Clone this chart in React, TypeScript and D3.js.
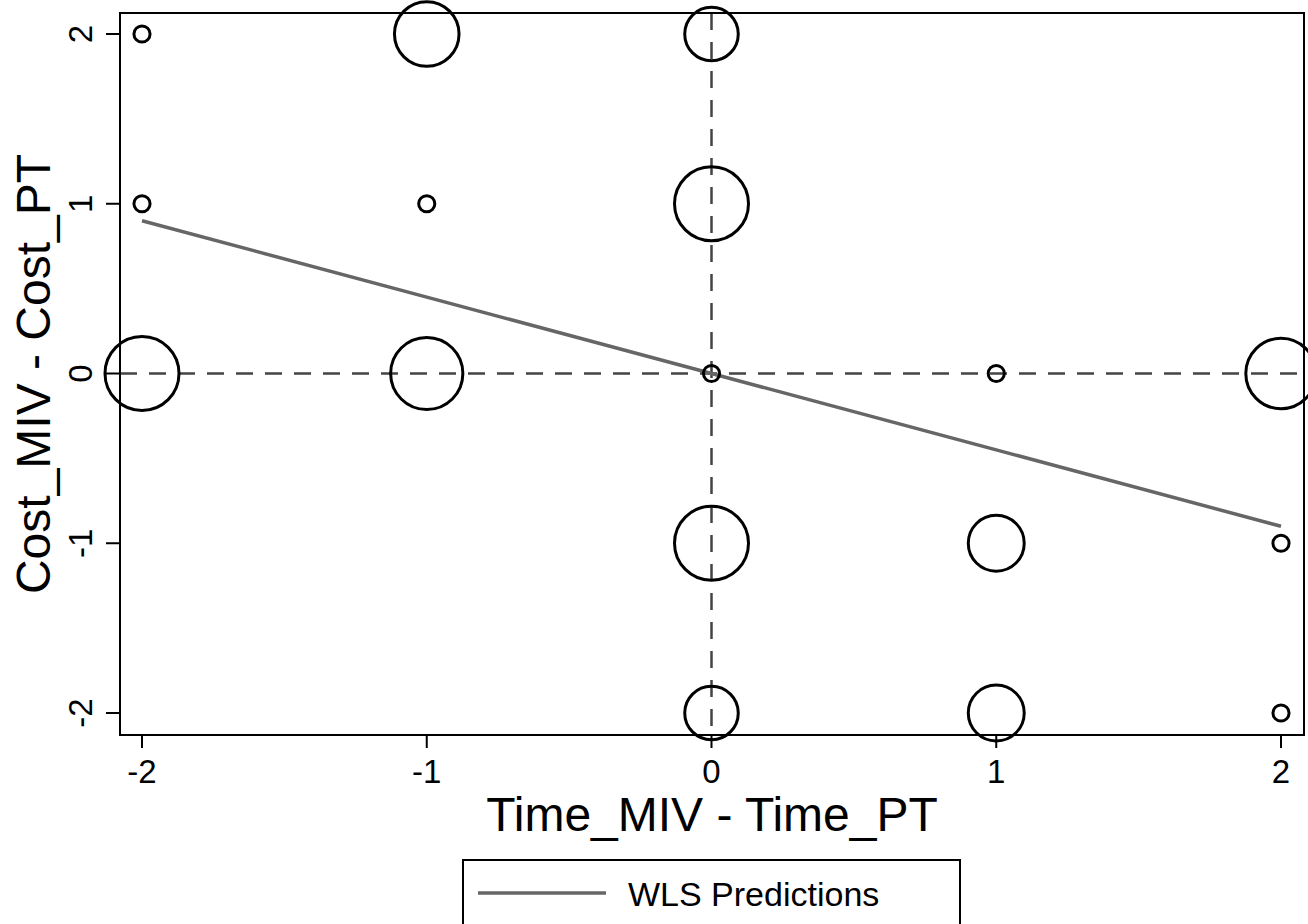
import React, { useEffect, useRef } from "react";
import * as d3 from "d3";

// observed cells: time difference, cost difference, weight (frequency)
const timeDiff = [-2, -2, -2, -1, -1, -1, 0, 0, 0, 0, 0, 1, 1, 1, 2, 2, 2];
const costDiff = [2, 1, 0, 2, 1, 0, 2, 1, 0, -1, -2, 0, -1, -2, 0, -1, -2];
const weights = [1, 1, 21, 16, 1, 20, 11, 21, 1, 21, 11, 1, 12, 12, 19, 1, 1];

// WLS fitted values
const fitX = [-2, -1, 0, 1, 2];
const fitY = [0.9, 0.45, 0, -0.45, -0.9];

const xTicks = [-2, -1, 0, 1, 2];
const yTicks = [-2, -1, 0, 1, 2];

const W = 1308;
const H = 924;
const FONT = "'Liberation Sans', Arial, Helvetica, sans-serif";

const App = () => {
    const svgRef = useRef<SVGSVGElement>(null);

    useEffect(() => {
        const svg = d3.select(svgRef.current);
        svg.selectAll("*").remove();

        const plot = { left: 120, right: 1304, top: 13, bottom: 735 };

        const x = d3.scaleLinear().domain([-2, 2]).range([142, 1281]);
        const y = d3.scaleLinear().domain([-2, 2]).range([713, 34]);
        const r = d3.scaleSqrt().domain([0, 21]).range([0, 37]);

        // reference lines at zero
        svg.append("line")
            .attr("x1", x(0)).attr("x2", x(0))
            .attr("y1", plot.top).attr("y2", plot.bottom)
            .attr("stroke", "#444").attr("stroke-width", 2.5)
            .attr("stroke-dasharray", "17,12");
        svg.append("line")
            .attr("x1", plot.left).attr("x2", plot.right)
            .attr("y1", y(0)).attr("y2", y(0))
            .attr("stroke", "#444").attr("stroke-width", 2.5)
            .attr("stroke-dasharray", "17,12");

        // fitted line
        const line = d3.line<number>()
            .x((d, i) => x(fitX[i]))
            .y(d => y(d));
        svg.append("path")
            .datum(fitY)
            .attr("d", line)
            .attr("fill", "none")
            .attr("stroke", "#666")
            .attr("stroke-width", 3.5);

        // frame
        svg.append("rect")
            .attr("x", plot.left).attr("y", plot.top)
            .attr("width", plot.right - plot.left)
            .attr("height", plot.bottom - plot.top)
            .attr("fill", "none")
            .attr("stroke", "#000")
            .attr("stroke-width", 2);

        // weighted markers
        svg.append("g")
            .selectAll("circle")
            .data(d3.range(timeDiff.length))
            .enter()
            .append("circle")
            .attr("cx", i => x(timeDiff[i]))
            .attr("cy", i => y(costDiff[i]))
            .attr("r", i => r(weights[i]))
            .attr("fill", "none")
            .attr("stroke", "#000")
            .attr("stroke-width", 3);

        // x axis
        const xa = svg.append("g").attr("font-family", FONT);
        xa.selectAll("line")
            .data(xTicks)
            .enter()
            .append("line")
            .attr("x1", d => x(d)).attr("x2", d => x(d))
            .attr("y1", plot.bottom).attr("y2", plot.bottom + 13)
            .attr("stroke", "#000").attr("stroke-width", 2);
        xa.selectAll("text")
            .data(xTicks)
            .enter()
            .append("text")
            .attr("x", d => x(d))
            .attr("y", 783)
            .attr("text-anchor", "middle")
            .attr("font-size", 33)
            .text(d => d);
        xa.append("text")
            .attr("x", 712)
            .attr("y", 831)
            .attr("text-anchor", "middle")
            .attr("font-size", 48)
            .text("Time_MIV - Time_PT");

        // y axis
        const ya = svg.append("g").attr("font-family", FONT);
        ya.selectAll("line")
            .data(yTicks)
            .enter()
            .append("line")
            .attr("x1", plot.left - 14).attr("x2", plot.left)
            .attr("y1", d => y(d)).attr("y2", d => y(d))
            .attr("stroke", "#000").attr("stroke-width", 2);
        ya.selectAll("text")
            .data(yTicks)
            .enter()
            .append("text")
            .attr("transform", d => `translate(92,${y(d)}) rotate(-90)`)
            .attr("text-anchor", "middle")
            .attr("font-size", 33)
            .text(d => d);
        ya.append("text")
            .attr("transform", `translate(50,${(plot.top + plot.bottom) / 2}) rotate(-90)`)
            .attr("text-anchor", "middle")
            .attr("font-size", 48)
            .text("Cost_MIV - Cost_PT");

        // legend
        const lg = svg.append("g").attr("font-family", FONT);
        lg.append("rect")
            .attr("x", 463).attr("y", 860)
            .attr("width", 497).attr("height", 90)
            .attr("fill", "none")
            .attr("stroke", "#000")
            .attr("stroke-width", 2);
        lg.append("line")
            .attr("x1", 478).attr("x2", 606)
            .attr("y1", 893).attr("y2", 893)
            .attr("stroke", "#666").attr("stroke-width", 3.5);
        lg.append("text")
            .attr("x", 628).attr("y", 906)
            .attr("font-size", 34)
            .text("WLS Predictions");
    }, []);

    return (
        <div style={{ position: "absolute", left: 0, top: 0, width: W, height: H, background: "#fff" }}>
            <svg ref={svgRef} width={W} height={H} style={{ display: "block" }} />
        </div>
    );
};

export default App;
